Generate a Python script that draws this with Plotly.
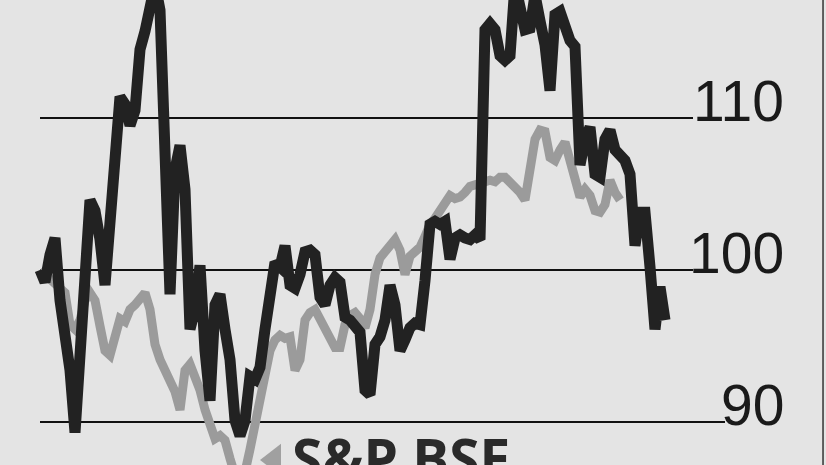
import plotly.graph_objects as go

# company share price (rebased to 100) vs S&P BSE index, one value every trading session step
stock = [100.0, 99.2, 101.0, 102.1, 98.0, 95.4, 93.4, 89.3, 94.7, 101.0,
         104.6, 103.9, 102.0, 99.0, 103.6, 109.2, 111.4, 110.9, 109.5, 110.5,
         114.5, 115.7, 117.4, 118.8, 117.1, 107.9, 98.4, 106.6, 108.2, 105.3,
         96.1, 97.4, 100.3, 94.7, 91.4, 97.7, 98.4, 96.1, 94.1, 90.1,
         89.1, 90.1, 93.0, 92.8, 93.6, 96.1, 98.7, 100.5, 100.2, 101.6,
         99.0, 98.8, 99.7, 101.2, 101.3, 101.0, 98.2, 97.7, 99.0, 99.5,
         99.2, 96.9, 96.7, 96.4, 95.9, 92.1, 91.8, 95.1, 95.6, 96.7,
         99.0, 97.7, 94.7, 95.4, 96.2, 96.5, 96.4, 99.3, 103.0, 103.2,
         103.0, 103.2, 100.7, 102.1, 102.3, 102.1, 102.0, 102.3, 102.0, 115.8,
         116.2, 115.8, 114.1, 113.8, 114.1, 118.8, 117.1, 115.8, 115.9, 118.1,
         116.4, 114.8, 111.8, 116.8, 117.0, 115.8, 115.1, 114.7, 106.9, 108.6,
         109.4, 106.3, 106.1, 108.6, 109.2, 107.9, 107.4, 107.2, 106.3, 101.6,
         103.8, 103.8, 100.2, 96.1, 98.9, 96.7]

sensex = [100.0, 99.7, 99.3, 99.0, 98.7, 98.5, 96.4, 96.1, 96.7, 98.0,
          98.5, 98.0, 96.3, 94.7, 94.4, 95.4, 96.8, 96.6, 97.4, 97.7,
          98.2, 98.5, 97.4, 95.1, 94.1, 93.4, 92.8, 92.0, 90.8, 93.4,
          93.8, 93.1, 92.1, 90.8, 89.7, 88.9, 89.1, 88.8, 87.6, 86.5,
          86.3, 86.7, 88.2, 89.8, 91.4, 93.1, 94.7, 95.4, 95.7, 95.5,
          95.6, 93.4, 94.1, 96.7, 97.2, 97.4, 96.8, 96.2, 95.3, 94.9,
          94.9, 96.4, 97.0, 97.2, 96.8, 96.2, 97.4, 99.7, 100.8, 101.2,
          101.6, 102.0, 101.3, 99.7, 100.9, 101.3, 101.5, 102.2, 103.0, 103.4,
          103.9, 104.4, 104.9, 104.7, 104.8, 105.1, 105.5, 105.6, 105.7, 105.8,
          105.9, 105.8, 106.1, 106.1, 105.8, 105.5, 105.1, 104.6, 106.4, 108.6,
          109.2, 109.1, 107.4, 107.2, 107.9, 108.4, 107.2, 106.1, 104.8, 105.3,
          104.9, 103.9, 103.8, 104.3, 105.9, 105.1, 104.6]

ticks = [90, 100, 110]
tick_labels = ["90", "100", "110"]
index_name = "S&P BSE"

fig = go.Figure()

# index line drawn first so the stock line sits on top
fig.add_trace(go.Scatter(x=list(range(len(sensex))), y=sensex, mode="lines",
                         line=dict(color="#9b9b9b", width=9)))
fig.add_trace(go.Scatter(x=list(range(len(stock))), y=stock, mode="lines",
                         line=dict(color="#222222", width=11)))

# gridlines with labels at their right end
for t, lab in zip(ticks, tick_labels):
    end = 137 if t == 90 else 130.6
    fig.add_shape(type="line", xref="x", yref="y", x0=0, x1=end, y0=t, y1=t,
                  line=dict(color="#111111", width=2), layer="below")
    fig.add_annotation(x=149.2, y=t, xref="x", yref="y", text=lab, showarrow=False,
                       xanchor="right", yanchor="bottom", yshift=-17,
                       font=dict(family="Liberation Sans Narrow, Liberation Sans, sans-serif",
                                 size=57, color="#1a1a1a"))

# legend key for the index (cut off at the bottom edge)
fig.add_trace(go.Scatter(x=[46.8], y=[87.5], mode="markers",
                         marker=dict(symbol="triangle-left", size=28, color="#a0a0a0")))
fig.add_annotation(x=50.0, y=89.0, xref="x", yref="y", text="<b>" + index_name + "</b>",
                   showarrow=False, xanchor="left", yanchor="top", yshift=19,
                   font=dict(family="Open Sans, sans-serif", size=55, color="#2a2a2a"))

# thin frame line on the right edge
fig.add_shape(type="line", xref="paper", yref="paper", x0=0.9964, x1=0.9964, y0=0, y1=1,
              line=dict(color="#333333", width=1.5))

fig.update_layout(
    width=826, height=465,
    margin=dict(l=0, r=0, t=0, b=0),
    paper_bgcolor="#e4e4e4", plot_bgcolor="#e4e4e4",
    showlegend=False,
    xaxis=dict(range=[-8, 157.2], visible=False),
    yaxis=dict(range=[87.17, 117.76], visible=False),
)

fig.write_html("out.html", config={"displayModeBar": False},
               post_script="document.body.style.margin='0';document.body.style.padding='0';")
